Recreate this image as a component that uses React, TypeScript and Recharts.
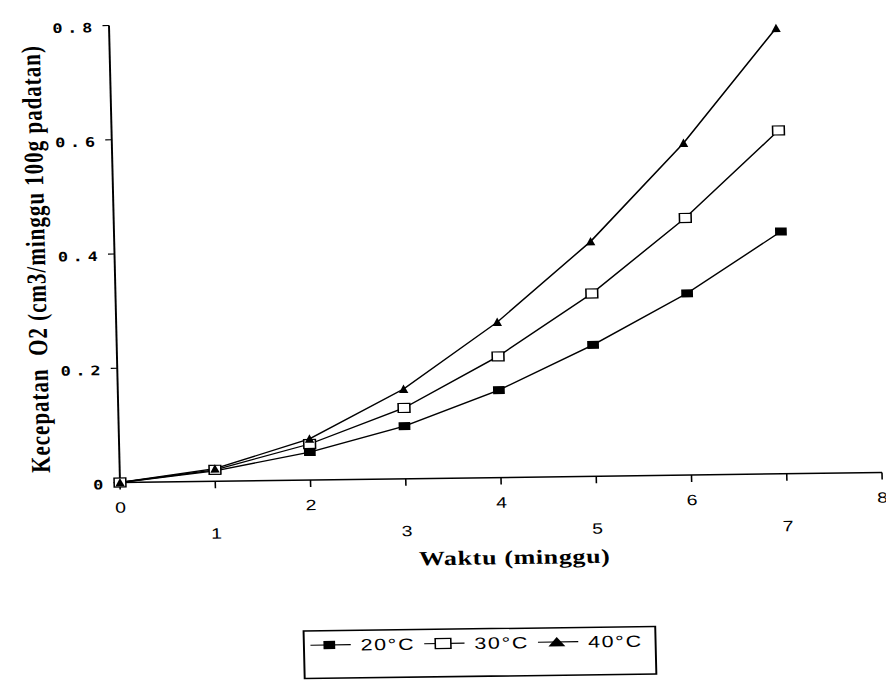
import React from 'react';
import { LineChart, Line, XAxis, YAxis, Legend, Label } from 'recharts';

// ---- data ----
const weeks = [0, 1, 2, 3, 4, 5, 6, 7];
const rate20 = [0, 0.018, 0.049, 0.092, 0.153, 0.23, 0.318, 0.424];
const rate30 = [0, 0.02, 0.063, 0.124, 0.212, 0.32, 0.45, 0.601];
const rate40 = [0, 0.022, 0.072, 0.157, 0.272, 0.411, 0.581, 0.78];
const xTicks = [0, 1, 2, 3, 4, 5, 6, 7, 8];
const yTicks = [0, 0.2, 0.4, 0.6, 0.8];
const seriesLabels = ['20°C', '30°C', '40°C'];
const xTitle = 'Waktu (minggu)';
const yTitle = 'Kecepatan  O2 (cm3/minggu 100g padatan)';

const data = weeks.map((w, i) => ({ week: w, r20: rate20[i], r30: rate30[i], r40: rate40[i] }));

// ---- layout (pre-transform coordinates) ----
const CHART_W = 666;
const CHART_H = 690;
const PLOT_LEFT = 77.34;
const PLOT_TOP = 18.82;
const PLOT_W = 586.15;
const PLOT_H = 457;
const XAXIS_H = 95;
const margin = {
  top: PLOT_TOP,
  right: CHART_W - PLOT_LEFT - PLOT_W,
  left: 0,
  bottom: CHART_H - PLOT_TOP - PLOT_H - XAXIS_H,
};

const SANS = "'Liberation Sans', Arial, sans-serif";
const MONO = "'DejaVu Sans Mono', 'Liberation Mono', monospace";
const SERIF = "'Liberation Serif', 'Times New Roman', serif";

type Shape = 'filled' | 'open' | 'triangle';
const shapes: Shape[] = ['filled', 'open', 'triangle'];

function marker(shape: Shape, cx: number, cy: number, key: any, big = false) {
  if (cx == null || cy == null) return <g key={key} />;
  if (shape === 'filled') {
    const w = 9, h = big ? 8.3 : 8;
    return <rect key={key} x={cx - w / 2} y={cy - h / 2} width={w} height={h} fill="#000" />;
  }
  if (shape === 'open') {
    const w = big ? 12 : 9, h = big ? 10 : 9;
    return (
      <rect key={key} x={cx - w / 2} y={cy - h / 2} width={w} height={h} fill="#fff" stroke="#000" strokeWidth={1.2} />
    );
  }
  const hw = big ? 6.5 : 3.6;
  const hh = big ? 4.3 : 3.9;
  return (
    <polygon
      key={key}
      points={`${cx},${cy - hh - 0.6} ${cx - hw},${cy + hh} ${cx + hw},${cy + hh}`}
      fill="#000"
    />
  );
}

const XTick = (props: any) => {
  const { x, y, payload } = props;
  const odd = Number(payload.value) % 2 === 1;
  return (
    <text x={x} y={y + (odd ? 27.3 : 0)} dy="0.71em" textAnchor="middle" fontFamily={SANS} fontSize={15} fill="#000">
      {payload.value}
    </text>
  );
};

const YTick = (props: any) => {
  const { x, y, payload } = props;
  const v = Number(payload.value);
  const label = v === 0 ? '0' : v.toFixed(1);
  return (
    <text
      x={x}
      y={y + 2}
      dy="0.36em"
      textAnchor="end"
      fontFamily={MONO}
      fontWeight="bold"
      fontSize={13}
      letterSpacing={3.6}
      fill="#000"
    >
      {label}
    </text>
  );
};

const renderXTitle = () => (
  <text
    x={PLOT_LEFT + PLOT_W / 2 + 9}
    y={562.5}
    textAnchor="middle"
    fontFamily={SERIF}
    fontWeight="bold"
    fontSize={20}
    letterSpacing={0.5}
    fill="#000"
  >
    {xTitle}
  </text>
);

const renderYTitle = () => {
  const cx = 23.8;
  const cy = PLOT_TOP + PLOT_H / 2 + 4;
  return (
    <text
      x={cx}
      y={cy}
      transform={`rotate(-90 ${cx} ${cy})`}
      textAnchor="middle"
      fontFamily={SERIF}
      fontWeight="bold"
      fontSize={21}
      letterSpacing={1}
      style={{ whiteSpace: 'pre' }}
      fill="#000"
    >
      {yTitle}
    </text>
  );
};

const LEG_W = 272;
const LEG_H = 49;
const renderLegend = () => (
  <svg width={LEG_W} height={LEG_H} style={{ display: 'block', overflow: 'visible' }}>
    <rect x={0.75} y={0.75} width={LEG_W - 1.5} height={LEG_H - 1.5} fill="#fff" stroke="#000" strokeWidth={1.5} />
    {seriesLabels.map((lab, i) => {
      const s = 5.8 + 87.5 * i;
      const cy = 15;
      return (
        <g key={lab}>
          <line x1={s} x2={s + 31} y1={cy} y2={cy} stroke="#000" strokeWidth={1.2} />
          {marker(shapes[i], s + 14.5, cy, 'm' + i, true)}
          <text x={s + 38.5} y={cy} dy="0.36em" fontFamily={SANS} fontSize={16.5} letterSpacing={1.3} fill="#000">
            {lab}
          </text>
        </g>
      );
    })}
  </svg>
);

const seriesKeys = ['r20', 'r30', 'r40'];

export default function App() {
  return (
    <div
      style={{
        position: 'absolute',
        left: 0,
        top: 0,
        width: 892,
        height: 682,
        overflow: 'hidden',
        background: '#fff',
      }}
    >
      <div
        style={{
          position: 'absolute',
          left: 8,
          top: 8,
          width: CHART_W,
          height: CHART_H,
          transformOrigin: '0 0',
          transform: 'matrix(1.3, -0.01706, 0.02407, 1, 0, 0)',
        }}
      >
        <LineChart width={CHART_W} height={CHART_H} data={data} margin={margin}>
          <XAxis
            dataKey="week"
            type="number"
            domain={[0, 8]}
            ticks={xTicks}
            interval={0}
            height={XAXIS_H}
            tickSize={7}
            tickMargin={12.5}
            tick={<XTick />}
            tickLine={{ stroke: '#000', strokeWidth: 1.2 }}
            axisLine={{ stroke: '#000', strokeWidth: 1.5 }}
          >
            <Label content={renderXTitle} />
          </XAxis>
          <XAxis
            xAxisId="top"
            orientation="top"
            dataKey="week"
            type="number"
            domain={[0, 8]}
            height={0}
            tick={false}
            tickLine={false}
            axisLine={{ stroke: '#000', strokeWidth: 1.5 }}
          />
          <YAxis
            type="number"
            domain={[0, 0.8]}
            ticks={yTicks}
            interval={0}
            width={PLOT_LEFT}
            tickSize={5}
            tickMargin={4.3}
            tick={<YTick />}
            tickLine={{ stroke: '#000', strokeWidth: 1.2 }}
            axisLine={{ stroke: '#000', strokeWidth: 1.5 }}
          >
            <Label content={renderYTitle} />
          </YAxis>
          <YAxis
            yAxisId="right"
            orientation="right"
            type="number"
            domain={[0, 0.8]}
            width={0}
            tick={false}
            tickLine={false}
            axisLine={{ stroke: '#000', strokeWidth: 1.5 }}
          />
          {seriesKeys.map((k, i) => (
            <Line
              key={k}
              dataKey={k}
              name={seriesLabels[i]}
              type="linear"
              stroke="#000"
              strokeWidth={1.3}
              isAnimationActive={false}
              dot={(p: any) => marker(shapes[i], p.cx, p.cy, k + p.index)}
              activeDot={false}
            />
          ))}
          <Legend
            verticalAlign="middle"
            align="center"
            layout="horizontal"
            content={renderLegend}
            wrapperStyle={{ left: 214.6, top: 625.7, width: LEG_W, height: LEG_H }}
          />
        </LineChart>
      </div>
    </div>
  );
}
